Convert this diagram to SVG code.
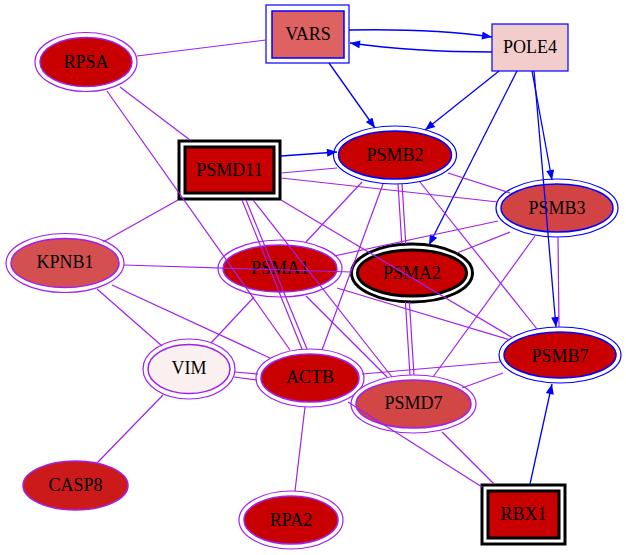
<svg xmlns="http://www.w3.org/2000/svg" width="626" height="555" viewBox="0 0 626 555">
<style>
.o{fill:#fff;stroke:#a020f0;stroke-width:1.2}
.i{stroke:#a020f0;stroke-width:1.5}
.ob{fill:#fff;stroke:#0000ff;stroke-width:1.2}
.ib{stroke:#0000ff;stroke-width:1.5}
.ok{fill:#fff;stroke:#000;stroke-width:3}
.ik{stroke:#000;stroke-width:3}
.red{fill:#c80000}
text{font-family:"Liberation Serif","Times New Roman",serif;font-size:18px;text-anchor:middle;fill:#000}
.e{stroke:#a020f0;stroke-width:1.2;fill:none}
.a{stroke:#0000ff;stroke-width:1.3;fill:none;marker-end:url(#ah)}
</style>
<defs>
<marker id="ah" viewBox="0 0 10 8" refX="10" refY="4" markerWidth="11" markerHeight="8" markerUnits="userSpaceOnUse" orient="auto">
<path d="M0,0 L10,4 L0,8 z" fill="#0000ff"/>
</marker>
</defs>
<rect width="626" height="555" fill="#fff"/>
<g id="nodes">
<g id="RPSA"><ellipse class="o" cx="86" cy="62" rx="51" ry="29.5"/><ellipse class="i red" cx="86" cy="62" rx="46" ry="24.5"/><text x="86" y="68">RPSA</text></g>
<g id="VARS"><rect class="ob" x="266" y="5" width="83" height="58"/><rect class="ib" x="272" y="11" width="72" height="47" fill="#de6262"/><text x="308" y="40">VARS</text></g>
<g id="POLE4"><rect x="492" y="24" width="76" height="47" fill="#f3cccc" stroke="#0000ff" stroke-width="1.2"/><text x="530" y="53">POLE4</text></g>
<g id="PSMD11"><rect class="ok" x="179" y="141" width="101" height="58"/><rect class="ik red" x="185" y="147" width="89" height="46"/><text x="229.5" y="176">PSMD11</text></g>
<g id="PSMB2"><ellipse class="ob" cx="395" cy="155" rx="61.5" ry="29"/><ellipse class="ib red" cx="395" cy="155" rx="56.5" ry="24"/><text x="395" y="161">PSMB2</text></g>
<g id="PSMB3"><ellipse class="ob" cx="557" cy="208" rx="61" ry="29"/><ellipse class="ib" cx="557" cy="208" rx="56" ry="24" fill="#d24444"/><text x="557" y="214">PSMB3</text></g>
<g id="KPNB1"><ellipse class="o" cx="65" cy="263" rx="59" ry="29.5"/><ellipse class="i" cx="65" cy="263" rx="54" ry="24.5" fill="#d44f4f"/><text x="65" y="268">KPNB1</text></g>
<g id="PSMA1"><ellipse class="o" cx="280" cy="268.5" rx="62" ry="28.5"/><ellipse class="i red" cx="280" cy="268.5" rx="57" ry="23.5"/><text x="280" y="274">PSMA1</text></g>
<g id="PSMA2"><ellipse class="ok" cx="412" cy="273" rx="60.5" ry="29"/><ellipse class="ik red" cx="412" cy="273" rx="54.5" ry="23"/><text x="412" y="279">PSMA2</text></g>
<g id="PSMB7"><ellipse class="ob" cx="560" cy="355" rx="61" ry="28"/><ellipse class="ib red" cx="560" cy="355" rx="56" ry="23"/><text x="560" y="362">PSMB7</text></g>
<g id="VIM"><ellipse class="o" cx="189" cy="369" rx="46" ry="30"/><ellipse class="i" cx="189" cy="369" rx="41" ry="24.5" fill="#faf0f0"/><text x="189" y="374">VIM</text></g>
<g id="ACTB"><ellipse class="o" cx="310" cy="378" rx="54" ry="29"/><ellipse class="i red" cx="310" cy="378" rx="49" ry="24"/><text x="310" y="383">ACTB</text></g>
<g id="PSMD7"><ellipse class="o" cx="413.5" cy="404" rx="62.5" ry="29"/><ellipse class="i" cx="413.5" cy="404" rx="57.5" ry="24" fill="#d24646"/><text x="413.5" y="409">PSMD7</text></g>
<g id="CASP8"><ellipse class="i" cx="75.5" cy="485.5" rx="52.5" ry="24.5" fill="#cc1a1a"/><text x="75.5" y="491">CASP8</text></g>
<g id="RPA2"><ellipse class="o" cx="291" cy="520" rx="52" ry="29"/><ellipse class="i red" cx="291" cy="520" rx="47" ry="24"/><text x="291" y="526">RPA2</text></g>
<g id="RBX1"><rect class="ok" x="482" y="485" width="83" height="59"/><rect class="ik red" x="488" y="491" width="71" height="47"/><text x="523.5" y="520">RBX1</text></g>
</g>
<g id="edges">
<line class="e" x1="137" y1="56" x2="266" y2="40"/>
<line class="e" x1="120" y1="87" x2="190" y2="140"/>
<line class="e" x1="107" y1="91" x2="290" y2="350"/>
<path class="a" d="M349,30 C400,29 450,31 492,37"/>
<path class="a" d="M492,52 C450,52 400,50 350,43"/>
<line class="a" x1="329" y1="63" x2="375" y2="128"/>
<line class="a" x1="499" y1="71" x2="425" y2="130"/>
<line class="a" x1="517" y1="71" x2="429" y2="245"/>
<line class="a" x1="532" y1="71" x2="552" y2="180"/>
<line class="a" x1="534" y1="71" x2="556" y2="327"/>
<line class="e" x1="558" y1="237" x2="559" y2="327"/>
<line class="a" x1="281" y1="156" x2="337" y2="152"/>
<line class="e" x1="281" y1="173" x2="337" y2="168"/>
<line class="e" x1="281" y1="178" x2="498" y2="202"/>
<line class="e" x1="448" y1="173" x2="510" y2="193"/>
<line class="e" x1="178" y1="200" x2="103" y2="242"/>
<line class="e" x1="253" y1="200" x2="392" y2="377"/>
<line class="e" x1="306" y1="296" x2="387" y2="377"/>
<line class="e" x1="242" y1="200" x2="302" y2="349"/>
<line class="e" x1="246" y1="200" x2="307" y2="349"/>
<line class="e" x1="281" y1="200" x2="513" y2="338"/>
<line class="e" x1="362" y1="182" x2="306" y2="242"/>
<line class="e" x1="383" y1="184" x2="322" y2="350"/>
<line class="e" x1="398" y1="184" x2="401.8" y2="244"/>
<line class="e" x1="402" y1="184" x2="405.8" y2="244"/>
<line class="e" x1="405.4" y1="302" x2="410" y2="375"/>
<line class="e" x1="409.4" y1="302" x2="414" y2="375"/>
<line class="e" x1="420" y1="182" x2="537" y2="329"/>
<line class="e" x1="498" y1="221" x2="334" y2="256"/>
<line class="e" x1="510" y1="232" x2="457" y2="253"/>
<line class="e" x1="535" y1="236" x2="433" y2="377"/>
<line class="e" x1="124" y1="265" x2="351" y2="272"/>
<line class="e" x1="97" y1="289" x2="162" y2="346"/>
<line class="e" x1="112" y1="285" x2="270" y2="358"/>
<line class="e" x1="254" y1="297" x2="211" y2="343"/>
<line class="e" x1="235" y1="372" x2="258" y2="374"/>
<line class="e" x1="234" y1="377" x2="257" y2="380"/>
<line class="e" x1="163" y1="395" x2="97" y2="463"/>
<line class="e" x1="337" y1="288" x2="510" y2="340"/>
<line class="e" x1="362" y1="374" x2="500" y2="362"/>
<line class="e" x1="462" y1="388" x2="503" y2="373"/>
<line class="a" x1="530" y1="484" x2="552" y2="384"/>
<line class="e" x1="348" y1="402" x2="482" y2="487"/>
<line class="e" x1="442" y1="432" x2="494" y2="484"/>
<line class="e" x1="305" y1="407" x2="295" y2="491"/>
</g>
</svg>
